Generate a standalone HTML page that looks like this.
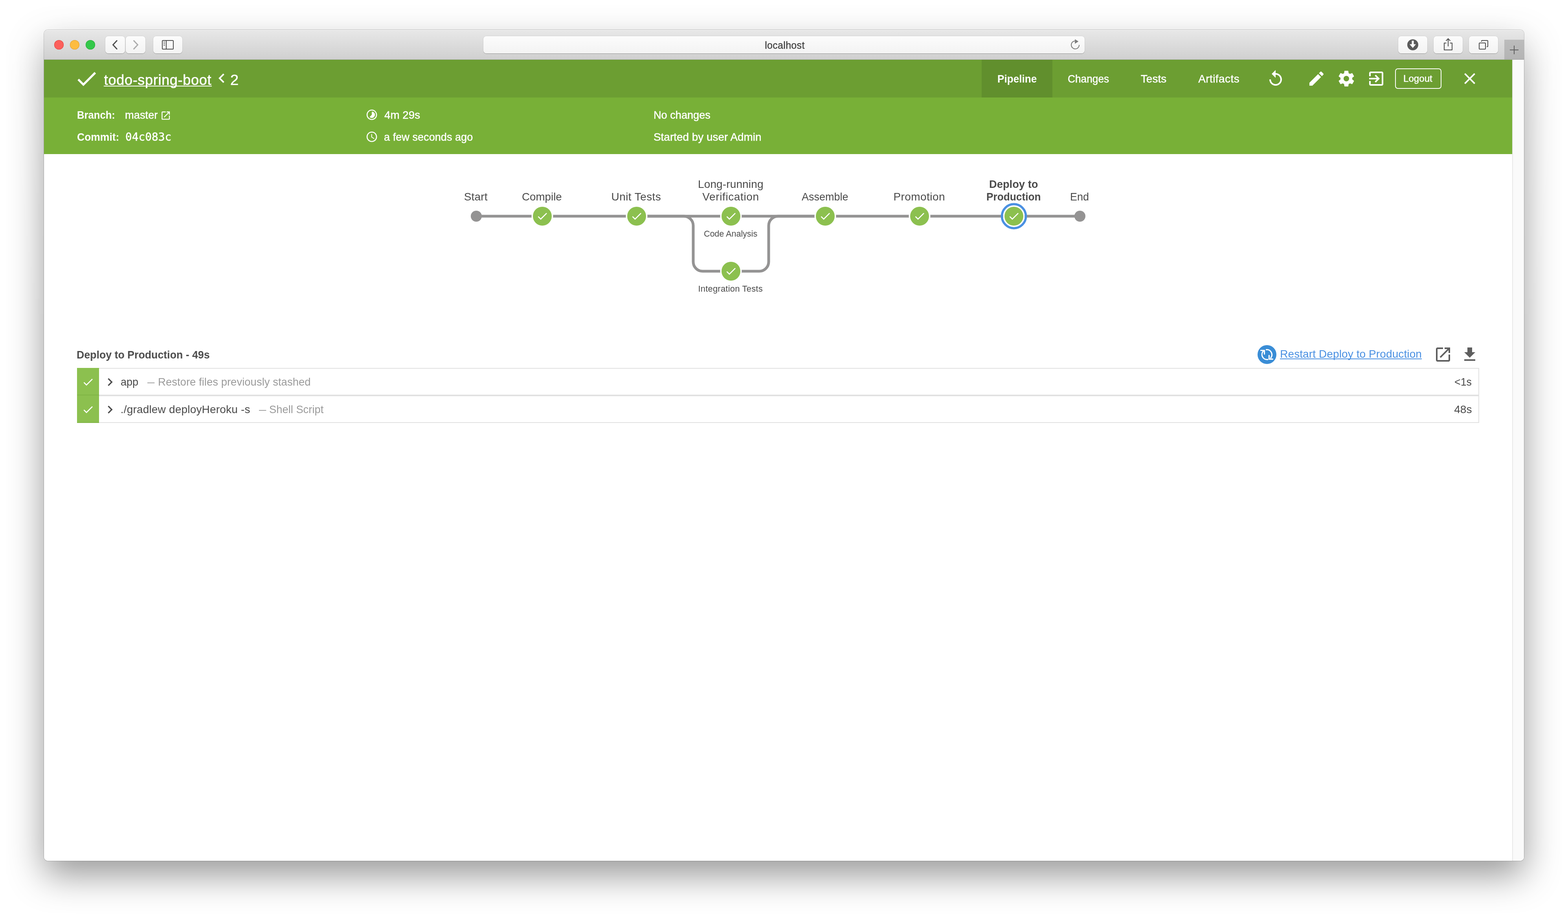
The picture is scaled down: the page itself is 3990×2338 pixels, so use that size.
<!DOCTYPE html>
<html lang="en"><head><meta charset="utf-8"><title>todo-spring-boot</title>
<style>
html,body{margin:0;padding:0;background:#fff}
body{width:3990px;height:2338px;position:relative;font-family:"Liberation Sans",Arial,Helvetica,sans-serif}
#win{position:absolute;left:112px;top:76px;width:3766px;height:2114px;border-radius:10px;background:#fff;overflow:hidden}
#shmask{position:absolute;left:0;top:0;width:3990px;height:2338px;-webkit-mask-image:linear-gradient(to bottom,rgba(0,0,0,.8) 120px,rgba(0,0,0,.85) 186px,rgba(0,0,0,.92) 300px,rgba(0,0,0,.96) 500px,#000 900px);mask-image:linear-gradient(to bottom,rgba(0,0,0,.8) 120px,rgba(0,0,0,.85) 186px,rgba(0,0,0,.92) 300px,rgba(0,0,0,.96) 500px,#000 900px)}
#shadow{position:absolute;left:112px;top:76px;width:3766px;height:2114px;border-radius:10px;box-shadow:0 36px 92px rgba(0,0,0,.41)}
#crop{position:absolute;left:0;top:0;width:3990px;height:2338px;box-sizing:border-box;border:solid #fff;border-width:14px 16px}
#rim{position:absolute;left:112px;top:76px;width:3766px;height:2114px;border-radius:10px;box-shadow:0 0 0 1px rgba(0,0,0,.2)}
#cv{position:absolute;left:-112px;top:-76px;width:3990px;height:2338px;will-change:transform}
#cv div,#cv svg,#cv a,#cv span,#cv h1,#cv h2,#cv ul,#cv li,#cv nav,#cv header,#cv section,#cv button{position:absolute;margin:0;padding:0;box-sizing:border-box}
#cv svg{overflow:visible}
#cv .g{position:static;display:block}
.t{white-space:nowrap;line-height:40px;height:40px;font-weight:400;text-decoration:none}
.btn{border-radius:8px;background:linear-gradient(#fcfcfc,#f3f3f3);box-shadow:0 1px 0 0 rgba(0,0,0,.28),0 0 0 1px rgba(0,0,0,.07)}
</style></head>
<body>
<div id="shmask"><div id="shadow"></div></div>
<div id="crop"></div>
<div id="rim"></div>
<div id="win"><div id="cv">
<header class="g" id="toolbar">
<div id="tbar" style="left:112px;top:76px;width:3766px;height:76px;background:linear-gradient(#f3f3f3 0,#f3f3f3 1px,#e7e7e7 2px,#d0d0d0 74px,#cdcdcd 75px,#b0b0b0 75px)"></div>
<div class="light" style="left:138px;top:102px;width:24px;height:24px;border-radius:50%;background:#fc605c;box-shadow:inset 0 0 0 1px #e14640"></div>
<div class="light" style="left:178px;top:102px;width:24px;height:24px;border-radius:50%;background:#fdbc40;box-shadow:inset 0 0 0 1px #e0a030"></div>
<div class="light" style="left:218px;top:102px;width:24px;height:24px;border-radius:50%;background:#34c84a;box-shadow:inset 0 0 0 1px #2aab36"></div>
<div class="btn" style="left:268px;top:92px;width:50px;height:44px"></div>
<div class="btn" style="left:320px;top:92px;width:50px;height:44px"></div>
<div class="btn" style="left:390px;top:92px;width:74px;height:44px"></div>
<div class="btn" id="urlbar" style="left:1230px;top:92px;width:1530px;height:44px"></div>
<div class="btn" style="left:3558px;top:92px;width:74px;height:44px"></div>
<div class="btn" style="left:3648px;top:92px;width:74px;height:44px"></div>
<div class="btn" style="left:3738px;top:92px;width:74px;height:44px"></div>
<div id="newtab" style="left:3828px;top:101px;width:50px;height:50px;background:linear-gradient(#bcbcbc,#b4b4b4 49px,#a9a9a9 49px)"></div>
<svg id="tb-icons" style="left:112px;top:76px" width="3766" height="76" viewBox="112 76 3766 76" fill="none" stroke-linecap="round" stroke-linejoin="round">
 <polyline points="297.3,103.6 287.6,114 297.3,124.4" stroke="#4d4d4d" stroke-width="3" stroke-linecap="round" stroke-linejoin="miter"/>
 <polyline points="340.6,103.6 350.4,114 340.6,124.4" stroke="#acacac" stroke-width="3" stroke-linecap="round" stroke-linejoin="miter"/>
 <rect x="413" y="103" width="28" height="22" rx="1.5" stroke="#4d4d4d" stroke-width="2"/>
 <line x1="423" y1="103" x2="423" y2="125" stroke="#4d4d4d" stroke-width="2" stroke-linecap="butt"/>
 <path d="M416 107h4M416 111h4M416 115h4" stroke="#4d4d4d" stroke-width="1.6" stroke-linecap="butt"/>
 <path d="M2746.2 114.3a10.1 10.1 0 1 1 -11 -10.05" stroke="#7b7b7b" stroke-width="2" stroke-linecap="butt"/>
 <path d="M2735.2 99.8l9.2 5.7-9.2 5.7z" fill="#7b7b7b" stroke="none"/>
 <circle cx="3595" cy="114" r="14" fill="#5a5a5a" stroke="none"/>
 <path d="M3592.5 103.5h5v9h5.6l-8.1 9.5-8.1-9.5h5.6z" fill="#fff" stroke="none"/>
 <path d="M3680.5 109.5h-5.5v17.5h20v-17.5h-5.5" stroke="#4d4d4d" stroke-width="2" stroke-linecap="butt" stroke-linejoin="round"/>
 <path d="M3685 118v-19M3679.5 104l5.5-5.5 5.5 5.5" stroke="#4d4d4d" stroke-width="2" stroke-linecap="butt" stroke-linejoin="miter"/>
 <rect x="3764" y="109.3" width="16" height="15.7" rx="1.5" stroke="#4d4d4d" stroke-width="2"/>
 <path d="M3770 106v-1.5a1.5 1.5 0 0 1 1.5 -1.5h13a1.5 1.5 0 0 1 1.5 1.5v12.7a1.5 1.5 0 0 1 -1.5 1.5h-1.5" stroke="#4d4d4d" stroke-width="2" stroke-linecap="butt"/>
 <path d="M3842 127h22M3853 116v22" stroke="#5e5e5e" stroke-width="2" stroke-linecap="butt"/>
</svg>
<span class="t" id="url" style="left:1946.19px;top:94.90px;font-size:25px;color:#3e3e3e;letter-spacing:0.309px;-webkit-text-stroke:0.35px #3e3e3e;">localhost</span>
</header>
<main class="g" id="page">
<section class="g" id="run-header">
<div id="hdr-top" style="left:112px;top:152px;width:3736px;height:96px;background:#6c9e32"></div>
<div id="hdr-bot" style="left:112px;top:248px;width:3736px;height:144px;background:#78b037"></div>
<div id="tab-sel" style="left:2498px;top:152px;width:180px;height:96px;background:#618f2d"></div>
<div id="logout-btn" style="left:3550px;top:174px;width:118px;height:52px;border:2px solid #fff;border-radius:7px"></div>
<div id="title-ul" style="left:264px;top:218px;width:275px;height:2px;background:#fff"></div>
<svg id="hdr-icons" style="left:112px;top:152px" width="3736" height="240" viewBox="112 152 3736 240" fill="#fff">
 <polygon transform="translate(220.2 200.2) scale(4)" points="-2,2.8 -4.8,0 -5.73,0.933 -2,4.67 6,-3.33 5.07,-4.27"/>
 <path transform="translate(540 175) scale(2)" d="M15.41 7.41L14 6l-6 6 6 6 1.41-1.41L10.83 12z"/>
 <path transform="translate(3222 176) scale(2)" d="M12 5V1L7 6l5 5V7c3.31 0 6 2.69 6 6s-2.69 6-6 6-6-2.69-6-6H4c0 4.42 3.58 8 8 8s8-3.58 8-8-3.58-8-8-8z"/>
 <path transform="translate(3326 176) scale(2)" d="M3 17.25V21h3.75L17.81 9.94l-3.75-3.75L3 17.25zM20.71 7.04c.39-.39.39-1.02 0-1.41l-2.34-2.34c-.39-.39-1.02-.39-1.41 0l-1.83 1.83 3.75 3.75 1.83-1.83z"/>
 <path transform="translate(3402 176) scale(2)" d="M19.43 12.98c.04-.32.07-.64.07-.98s-.03-.66-.07-.98l2.11-1.65c.19-.15.24-.42.12-.64l-2-3.46c-.12-.22-.39-.3-.61-.22l-2.49 1c-.52-.4-1.08-.73-1.69-.98l-.38-2.65C14.46 2.18 14.25 2 14 2h-4c-.25 0-.46.18-.49.42l-.38 2.65c-.61.25-1.17.59-1.69.98l-2.49-1c-.23-.09-.49 0-.61.22l-2 3.46c-.13.22-.07.49.12.64l2.11 1.65c-.04.32-.07.65-.07.98s.03.66.07.98l-2.11 1.65c-.19.15-.24.42-.12.64l2 3.46c.12.22.39.3.61.22l2.49-1c.52.4 1.08.73 1.69.98l.38 2.65c.03.24.24.42.49.42h4c.25 0 .46-.18.49-.42l.38-2.65c.61-.25 1.17-.59 1.69-.98l2.49 1c.23.09.49 0 .61-.22l2-3.46c.12-.22.07-.49-.12-.64l-2.11-1.65zM12 15.5c-1.93 0-3.5-1.57-3.5-3.5s1.57-3.5 3.5-3.5 3.5 1.57 3.5 3.5-1.57 3.5-3.5 3.5z"/>
 <path transform="translate(3478 176) scale(2)" d="M10.09 15.59L11.5 17l5-5-5-5-1.41 1.41L12.67 11H3v2h9.67l-2.58 2.59zM19 3H5c-1.11 0-2 .9-2 2v4h2V5h14v14H5v-4H3v4c0 1.1.89 2 2 2h14c1.1 0 2-.9 2-2V5c0-1.1-.9-2-2-2z"/>
 <path transform="translate(3716 176) scale(2)" d="M19 6.41L17.59 5 12 10.59 6.41 5 5 6.41 10.59 12 5 17.59 6.41 19 12 13.41 17.59 19 19 17.59 13.41 12z"/>
 <path transform="translate(407.7 280.1) scale(1.1667)" d="M19 19H5V5h7V3H5c-1.11 0-2 .9-2 2v14c0 1.1.89 2 2 2h14c1.1 0 2-.9 2-2v-7h-2v7zM14 3v2h3.59l-9.83 9.83 1.41 1.41L19 6.41V10h2V3h-7z"/>
 <path transform="translate(930.1 276) scale(1.3333)" d="M16.24 7.76C15.07 6.59 13.54 6 12 6v6l-4.24 4.24c2.34 2.34 6.14 2.34 8.49 0 2.34-2.34 2.34-6.14-.01-8.48zM12 2C6.48 2 2 6.48 2 12s4.48 10 10 10 10-4.48 10-10S17.52 2 12 2zm0 18c-4.42 0-8-3.58-8-8s3.58-8 8-8 8 3.58 8 8-3.58 8-8 8z"/>
 <path transform="translate(930.1 332) scale(1.3333)" d="M11.99 2C6.47 2 2 6.48 2 12s4.47 10 9.99 10C17.52 22 22 17.52 22 12S17.52 2 11.99 2zM12 20c-4.42 0-8-3.58-8-8s3.58-8 8-8 8 3.58 8 8-3.58 8-8 8zm.5-13H11v6l5.25 3.15.75-1.23-4.5-2.67z"/>
</svg>
<a class="t" id="title" style="left:264.75px;top:183.80px;font-size:36px;color:#fff;letter-spacing:0.703px;-webkit-text-stroke:0.6px #fff;">todo-spring-boot</a>
<span class="t" id="runid" style="left:586.45px;top:184.00px;font-size:36px;color:#fff;transform-origin:0 0;transform:scaleX(1.0506);-webkit-text-stroke:0.6px #fff;">2</span>
<a class="t" id="tab1" style="left:2538.14px;top:181.00px;font-size:28px;color:#fff;font-weight:700;transform-origin:0 0;transform:scaleX(0.9335);">Pipeline</a>
<a class="t" id="tab2" style="left:2717.22px;top:181.00px;font-size:28px;color:#fff;transform-origin:0 0;transform:scaleX(0.9387);-webkit-text-stroke:0.5px #fff;">Changes</a>
<a class="t" id="tab3" style="left:2902.80px;top:181.00px;font-size:28px;color:#fff;letter-spacing:0.010px;-webkit-text-stroke:0.5px #fff;">Tests</a>
<a class="t" id="tab4" style="left:3049.13px;top:181.00px;font-size:28px;color:#fff;letter-spacing:0.430px;-webkit-text-stroke:0.5px #fff;">Artifacts</a>
<a class="t" id="logout" style="left:3571.00px;top:180.30px;font-size:24px;color:#fff;letter-spacing:0.067px;-webkit-text-stroke:0.5px #fff;">Logout</a>
<span class="t" id="lbl1" style="left:195.57px;top:273.00px;font-size:28px;color:#fff;font-weight:700;transform-origin:0 0;transform:scaleX(0.9153);">Branch:</span>
<span class="t" id="val1" style="left:317.74px;top:273.00px;font-size:28px;color:#fff;transform-origin:0 0;transform:scaleX(0.9754);-webkit-text-stroke:0.5px #fff;">master</span>
<span class="t" id="lbl2" style="left:196.00px;top:329.00px;font-size:28px;color:#fff;font-weight:700;transform-origin:0 0;transform:scaleX(0.9460);">Commit:</span>
<span class="t" id="val2" style="left:318.50px;top:329.20px;font-size:28px;color:#fff;font-family:'DejaVu Sans Mono','Liberation Mono',monospace;transform-origin:0 0;transform:scaleX(0.9938);-webkit-text-stroke:0.5px #fff;">04c083c</span>
<span class="t" id="dur" style="left:977.89px;top:273.00px;font-size:28px;color:#fff;transform-origin:0 0;transform:scaleX(0.9921);-webkit-text-stroke:0.5px #fff;">4m 29s</span>
<span class="t" id="ago" style="left:977.43px;top:329.00px;font-size:28px;color:#fff;transform-origin:0 0;transform:scaleX(0.9692);-webkit-text-stroke:0.5px #fff;">a few seconds ago</span>
<span class="t" id="chg" style="left:1662.63px;top:273.00px;font-size:28px;color:#fff;transform-origin:0 0;transform:scaleX(0.9694);-webkit-text-stroke:0.5px #fff;">No changes</span>
<span class="t" id="cause" style="left:1663.37px;top:329.00px;font-size:28px;color:#fff;transform-origin:0 0;transform:scaleX(0.9964);-webkit-text-stroke:0.5px #fff;">Started by user Admin</span>
</section>
<section class="g" id="pipeline">
<svg id="graph" style="left:1100px;top:420px" width="1760" height="360" viewBox="1100 420 1760 360">
 <g fill="none" stroke="#949393" stroke-width="7">
  <path d="M1212 550H2748"/>
  <path d="M1620 550H1740a24 24 0 0 1 24 24V666a24 24 0 0 0 24 24H1860"/>
  <path d="M1860 690H1932a24 24 0 0 0 24 -24V574a24 24 0 0 1 24 -24H2100"/>
 </g>
 <circle cx="1212" cy="550" r="14" fill="#949393"/>
 <circle cx="2748" cy="550" r="14" fill="#949393"/>
 <g transform="translate(1380 550)"><circle r="27.5" fill="#fff"/><circle r="24" fill="#8cc04f"/><polygon fill="#fff" transform="scale(2)" points="-2,2.8 -4.8,0 -5.73,0.933 -2,4.67 6,-3.33 5.07,-4.27"/></g>
 <g transform="translate(1620 550)"><circle r="27.5" fill="#fff"/><circle r="24" fill="#8cc04f"/><polygon fill="#fff" transform="scale(2)" points="-2,2.8 -4.8,0 -5.73,0.933 -2,4.67 6,-3.33 5.07,-4.27"/></g>
 <g transform="translate(1860 550)"><circle r="27.5" fill="#fff"/><circle r="24" fill="#8cc04f"/><polygon fill="#fff" transform="scale(2)" points="-2,2.8 -4.8,0 -5.73,0.933 -2,4.67 6,-3.33 5.07,-4.27"/></g>
 <g transform="translate(1860 690)"><circle r="27.5" fill="#fff"/><circle r="24" fill="#8cc04f"/><polygon fill="#fff" transform="scale(2)" points="-2,2.8 -4.8,0 -5.73,0.933 -2,4.67 6,-3.33 5.07,-4.27"/></g>
 <g transform="translate(2100 550)"><circle r="27.5" fill="#fff"/><circle r="24" fill="#8cc04f"/><polygon fill="#fff" transform="scale(2)" points="-2,2.8 -4.8,0 -5.73,0.933 -2,4.67 6,-3.33 5.07,-4.27"/></g>
 <g transform="translate(2340 550)"><circle r="27.5" fill="#fff"/><circle r="24" fill="#8cc04f"/><polygon fill="#fff" transform="scale(2)" points="-2,2.8 -4.8,0 -5.73,0.933 -2,4.67 6,-3.33 5.07,-4.27"/></g>
 <g transform="translate(2580 550)"><circle r="27.5" fill="#fff"/><circle r="30.55" fill="none" stroke="#4a90e2" stroke-width="5.7"/><circle r="24" fill="#8cc04f"/><polygon fill="#fff" transform="scale(2)" points="-2,2.8 -4.8,0 -5.73,0.933 -2,4.67 6,-3.33 5.07,-4.27"/></g>
</svg>
<span class="t" id="s_start" style="left:1180.66px;top:481.00px;font-size:28px;color:#4a4a4a;letter-spacing:0.201px;">Start</span>
<span class="t" id="s_comp" style="left:1328.20px;top:481.00px;font-size:28px;color:#4a4a4a;transform-origin:0 0;transform:scaleX(0.9912);">Compile</span>
<span class="t" id="s_unit" style="left:1555.53px;top:481.00px;font-size:28px;color:#4a4a4a;letter-spacing:0.432px;">Unit Tests</span>
<span class="t" id="s_long1" style="left:1776.00px;top:449.20px;font-size:28px;color:#4a4a4a;letter-spacing:0.130px;">Long-running</span>
<span class="t" id="s_long2" style="left:1787.37px;top:481.00px;font-size:28px;color:#4a4a4a;letter-spacing:0.605px;">Verification</span>
<span class="t" id="s_asm" style="left:2040.00px;top:481.00px;font-size:28px;color:#4a4a4a;transform-origin:0 0;transform:scaleX(0.9646);">Assemble</span>
<span class="t" id="s_prom" style="left:2273.48px;top:481.00px;font-size:28px;color:#4a4a4a;letter-spacing:0.434px;">Promotion</span>
<span class="t" id="s_dep1" style="left:2516.69px;top:449.00px;font-size:28px;color:#4a4a4a;font-weight:700;transform-origin:0 0;transform:scaleX(0.9755);">Deploy to</span>
<span class="t" id="s_dep2" style="left:2509.56px;top:481.00px;font-size:28px;color:#4a4a4a;font-weight:700;transform-origin:0 0;transform:scaleX(0.9379);">Production</span>
<span class="t" id="s_end" style="left:2723.00px;top:481.00px;font-size:28px;color:#4a4a4a;transform-origin:0 0;transform:scaleX(0.9649);">End</span>
<span class="t" id="p_code" style="left:1790.50px;top:575.00px;font-size:22px;color:#4a4a4a;transform-origin:0 0;transform:scaleX(0.9761);">Code Analysis</span>
<span class="t" id="p_int" style="left:1776.44px;top:715.00px;font-size:22px;color:#4a4a4a;letter-spacing:0.201px;">Integration Tests</span>
</section>
<section class="g" id="steps">
<div class="row" style="left:196px;top:936px;width:3568px;height:70px;border:2px solid #e1e1e1;background:#fff"></div>
<div class="row" style="left:196px;top:1006px;width:3568px;height:70px;border:2px solid #e1e1e1;background:#fff"></div>
<div class="stat" style="left:196px;top:936px;width:56px;height:70px;background:#8cc04f;border-bottom:2px solid #7fb444"></div>
<div class="stat" style="left:196px;top:1006px;width:56px;height:70px;background:#8cc04f;border-bottom:2px solid #7fb444"></div>
<div id="restart-ul" style="left:3257px;top:912px;width:360.6px;height:2px;background:#4a90e2"></div>
<svg id="step-icons" style="left:196px;top:870px" width="3568" height="210" viewBox="196 870 3568 210">
 <polygon fill="#fff" transform="translate(224 972) scale(2)" points="-2,2.8 -4.8,0 -5.73,0.933 -2,4.67 6,-3.33 5.07,-4.27"/>
 <polygon fill="#fff" transform="translate(224 1042) scale(2)" points="-2,2.8 -4.8,0 -5.73,0.933 -2,4.67 6,-3.33 5.07,-4.27"/>
 <path fill="#4a4a4a" transform="translate(260 952) scale(1.6667)" d="M10 6L8.59 7.41 13.17 12l-4.58 4.59L10 18l6-6z"/>
 <path fill="#4a4a4a" transform="translate(260 1022) scale(1.6667)" d="M10 6L8.59 7.41 13.17 12l-4.58 4.59L10 18l6-6z"/>
 <circle cx="3224" cy="902" r="24" fill="#3a8dd6"/>
 <g fill="none" stroke="#fff" stroke-width="3.1" stroke-linecap="round" stroke-linejoin="round">
  <path d="M3226 914.6A12.8 12.8 0 0 1 3214.5 893.4"/>
  <path d="M3222.3 889.6A12.8 12.8 0 0 1 3233.6 910.4"/>
  <polyline points="3208.4,891.5 3217.5,891.5 3217.5,900.8"/>
  <polyline points="3238.6,913.6 3229.4,913.6 3229.4,904.2"/>
 </g>
 <path fill="#5e5e5e" transform="translate(3648 878) scale(2)" d="M19 19H5V5h7V3H5c-1.11 0-2 .9-2 2v14c0 1.1.89 2 2 2h14c1.1 0 2-.9 2-2v-7h-2v7zM14 3v2h3.59l-9.83 9.83 1.41 1.41L19 6.41V10h2V3h-7z"/>
 <path fill="#5e5e5e" transform="translate(3716 878) scale(2)" d="M19 9h-4V3H9v6H5l7 7 7-7zM5 18v2h14v-2H5z"/>
</svg>
<h2 class="t" id="h_steps" style="left:194.84px;top:883.00px;font-size:28px;color:#4a4a4a;font-weight:700;transform-origin:0 0;transform:scaleX(0.9545);">Deploy to Production - 49s</h2>
<a class="t" id="restart" style="left:3257.14px;top:880.80px;font-size:28px;color:#4a90e2;letter-spacing:0.104px;">Restart Deploy to Production</a>
<span class="t" id="r1a" style="left:307.42px;top:952.00px;font-size:28px;color:#4a4a4a;transform-origin:0 0;transform:scaleX(0.9667);">app</span>
<span class="t" id="r1d" style="left:375.00px;top:952.00px;font-size:28px;color:#9b9b9b;transform-origin:0 0;transform:scaleX(0.6540);">—</span>
<span class="t" id="r1b" style="left:402.32px;top:952.00px;font-size:28px;color:#9b9b9b;transform-origin:0 0;transform:scaleX(0.9831);">Restore files previously stashed</span>
<span class="t" id="r1t" style="left:3701.32px;top:952.00px;font-size:28px;color:#4a4a4a;transform-origin:0 0;transform:scaleX(0.9569);">&lt;1s</span>
<span class="t" id="r2a" style="left:306.75px;top:1022.00px;font-size:28px;color:#4a4a4a;letter-spacing:0.183px;">./gradlew deployHeroku -s</span>
<span class="t" id="r2d" style="left:659.00px;top:1022.00px;font-size:28px;color:#9b9b9b;transform-origin:0 0;transform:scaleX(0.6540);">—</span>
<span class="t" id="r2b" style="left:685.14px;top:1022.00px;font-size:28px;color:#9b9b9b;transform-origin:0 0;transform:scaleX(0.9763);">Shell Script</span>
<span class="t" id="r2t" style="left:3700.15px;top:1021.80px;font-size:28px;color:#4a4a4a;letter-spacing:0.141px;">48s</span>
</section>
</main>
<div id="scroll" style="left:3848px;top:152px;width:30px;height:2038px;background:#fafafa;border-left:2px solid #e8e8e8"></div>
</div></div>
</body></html>
